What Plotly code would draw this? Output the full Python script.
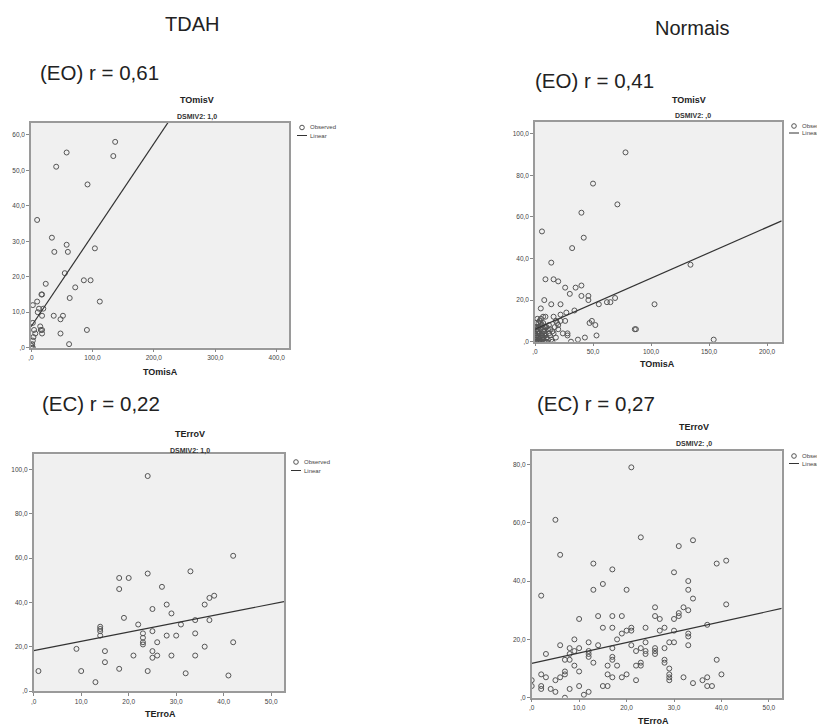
import plotly.graph_objects as go

# The page has an 8px body margin, so the figure is drawn 8px in from the window corner.
OFF = 8
W, H = 825 - OFF, 725 - OFF

# ---------------- data ----------------
# Panel 1: TDAH, TOmisA (x) vs TOmisV (y)
tdah_eo_x = [137, 134, 58, 41, 92, 10, 34, 58, 38, 60, 104, 55, 86, 97, 72, 24, 17, 18, 63, 112,
             10, 3, 20, 13, 11, 37, 18, 52, 48, 15, 18, 16, 5, 91, 18, 48, 3, 62, 4, 3, 2, 1, 7, 3, 2]
tdah_eo_y = [58, 54, 55, 51, 46, 36, 31, 29, 27, 27, 28, 21, 19, 19, 17, 18, 15, 15, 14, 13,
             13, 12, 11, 11, 10, 9, 9, 9, 8, 6, 5, 5, 5, 5, 4, 4, 7, 1, 3, 2, 1, 0.5, 4, 0, 0]
tdah_eo_fit = (5.9, 0.258)  # intercept, slope

# Panel 2: Normais, TOmisA (x) vs TOmisV (y)
norm_eo_x = [78, 50, 71, 40, 6, 42, 32, 14, 134, 9, 16, 20, 40, 26, 35, 30, 40, 46, 46, 55,
             62, 65, 69, 103, 8, 14, 22, 5, 34, 27, 16, 22, 7, 9, 26, 49, 47, 52, 86, 87,
             28, 28, 53, 43, 37, 31, 154,
             1, 2, 3, 1, 4, 2, 5, 3, 6, 1, 4, 2, 7, 8, 6, 10, 9, 11, 12, 13,
             14, 15, 17, 18, 19, 20, 22, 24, 3, 5, 0, 0, 1, 7, 9, 11, 16, 18, 20, 5,
             2, 4, 6, 8, 10, 12, 0, 3, 5, 7, 13, 15,
             1, 2, 3, 4, 5, 6, 7, 8, 9, 10, 1, 3, 5, 7, 9, 2, 4, 6, 8, 0]
norm_eo_y = [91, 76, 66, 62, 53, 50, 45, 38, 37, 30, 30, 29, 27, 26, 26, 23, 22, 22, 20, 18,
             19, 19, 21, 18, 20, 18, 18, 16, 15, 14, 12, 13, 12, 12, 10, 10, 9, 8, 6, 6,
             4, 3, 3, 2, 1, 0, 1,
             0, 1, 2, 3, 4, 5, 6, 7, 8, 9, 10, 11, 5, 3, 1, 2, 4, 6, 8, 3,
             1, 5, 7, 2, 9, 6, 10, 4, 0, 2, 1, 4, 6, 9, 7, 1, 4, 10, 8, 11,
             0, 1, 3, 0, 0, 4, 2, 5, 9, 2, 6, 0,
             7, 3, 9, 1, 0, 3, 1, 5, 0, 7, 2, 4, 8, 2, 3, 6, 0, 4, 6, 7]
norm_eo_fit = (6.0, 0.245)

# Panel 3: TDAH, TErroA (x) vs TErroV (y)
tdah_ec_x = [24, 42, 33, 24, 18, 20, 18, 27, 38, 37, 28, 36, 25, 29, 19, 34, 37, 22, 31,
             14, 14, 14, 14, 23, 25, 34, 28, 30, 23, 23, 23, 26, 42, 9, 15, 25, 36,
             21, 26, 29, 34, 25, 15, 18, 1, 10, 24, 32, 41, 13]
tdah_ec_y = [97, 61, 54, 53, 51, 51, 46, 47, 43, 42, 39, 39, 37, 35, 33, 32, 32, 30, 30,
             29, 28, 27, 25, 26, 27, 26, 25, 25, 24, 22, 21, 22, 22, 19, 18, 18, 20,
             16, 16, 16, 16, 15, 13, 10, 9, 9, 9, 8, 7, 4]
tdah_ec_fit = (18.2, 0.42)

# Panel 4: Normais, TErroA (x) vs TErroV (y)
norm_ec_x = [21, 5, 23, 34, 31, 6, 41, 39, 13, 17, 30, 15, 33, 33, 13, 20, 2, 34, 41, 26,
             32, 33, 31, 31, 30, 10, 27, 14, 17, 19, 26, 15, 17, 21, 24, 28, 21, 20, 27, 30,
             37, 19, 33, 33, 18, 9, 12, 24, 29, 30, 21, 6, 14, 33, 8, 10, 17, 28, 12, 23,
             26, 26, 9, 22, 24, 3, 8, 12, 12, 17, 26, 24, 7, 8, 17, 28, 28, 13, 23, 39,
             9, 16, 18, 22, 23, 29, 7, 10, 7, 2, 16, 20, 19, 29, 29, 3, 6, 17, 32, 37,
             40, 5, 22, 29, 36, 34, 0, 0, 2, 2, 10, 15, 16, 37, 38, 4, 8, 5, 12, 11, 7]
norm_ec_y = [79, 61, 55, 54, 52, 49, 47, 46, 46, 44, 43, 39, 40, 37, 37, 37, 35, 34, 32, 31,
             31, 30, 29, 28, 27, 27, 27, 28, 28, 28, 28, 24, 24, 24, 24, 24, 23, 23, 23, 23,
             25, 22, 22, 21, 20, 20, 19, 19, 19, 19, 18, 18, 18, 18, 17, 17, 17, 17, 16, 17,
             17, 16, 16, 16, 16, 15, 15, 15, 14, 14, 15, 15, 13, 13, 13, 13, 12, 12, 12, 13,
             11, 11, 11, 11, 11, 10, 9, 9, 8, 8, 8, 8, 7, 8, 7, 7, 7, 7, 7, 7,
             8, 6, 6, 6, 6, 5, 6, 4, 4, 3, 4, 4, 4, 4, 4, 3, 3, 2, 2, 1, 0]
norm_ec_fit = (11.8, 0.357)

# axis ranges and ticks
p1_xrange, p1_yrange, p1_xticks, p1_yticks = [0, 420], [0, 63.4], [0, 100, 200, 300, 400], [0, 10, 20, 30, 40, 50, 60]
p2_xrange, p2_yrange, p2_xticks, p2_yticks = [0, 212.6], [0, 105.6], [0, 50, 100, 150, 200], [0, 20, 40, 60, 80, 100]
p3_xrange, p3_yrange, p3_xticks, p3_yticks = [0, 52.7], [0, 106.8], [0, 10, 20, 30, 40, 50], [0, 20, 40, 60, 80, 100]
p4_xrange, p4_yrange, p4_xticks, p4_yticks = [0, 52.7], [0, 84.5], [0, 10, 20, 30, 40, 50], [0, 20, 40, 60, 80]

group_titles = ["TDAH", "Normais"]
r_labels = ["(EO) r = 0,61", "(EO) r = 0,41", "(EC) r = 0,22", "(EC) r = 0,27"]
y_titles = ["TOmisV", "TOmisV", "TErroV", "TErroV"]
sub_titles = ["DSMIV2: 1,0", "DSMIV2: ,0", "DSMIV2: 1,0", "DSMIV2: ,0"]
x_titles = ["TOmisA", "TOmisA", "TErroA", "TErroA"]
legend_names = ["Observed", "Linear"]


def spss(v):
    s = f"{v:.1f}".replace(".", ",")
    if s.startswith("0,"):
        s = s[1:]
    return s


def px(x):
    return (x - OFF) / W


def py(y):
    return 1 - (y - OFF) / H


FONT = "Liberation Sans, Arial, sans-serif"
MARK = "#555555"
LINE = "#333333"


def label(x, y, text, size, color="#222222", anchor="center"):
    return dict(x=px(x), y=py(y), xref="paper", yref="paper", xanchor=anchor, yanchor="middle",
                text=text, showarrow=False, font=dict(family=FONT, size=size, color=color))


panels = [
    dict(x=tdah_eo_x, y=tdah_eo_y, fit=tdah_eo_fit, xr=p1_xrange, yr=p1_yrange, xt=p1_xticks, yt=p1_yticks,
         box=(31, 122.7, 289, 347.7), title=(197, 100), sub=(197, 117), xtitle=(160, 372),
         leg=(302, 127.5, 135.5)),
    dict(x=norm_eo_x, y=norm_eo_y, fit=norm_eo_fit, xr=p2_xrange, yr=p2_yrange, xt=p2_xticks, yt=p2_yticks,
         box=(535, 122, 781.7, 341.7), title=(689, 100), sub=(693, 116), xtitle=(657, 364),
         leg=(794, 126, 133)),
    dict(x=tdah_ec_x, y=tdah_ec_y, fit=tdah_ec_fit, xr=p3_xrange, yr=p3_yrange, xt=p3_xticks, yt=p3_yticks,
         box=(33.7, 454.3, 284, 691), title=(190, 434), sub=(190, 451), xtitle=(160, 714),
         leg=(296, 462, 470.5)),
    dict(x=norm_ec_x, y=norm_ec_y, fit=norm_ec_fit, xr=p4_xrange, yr=p4_yrange, xt=p4_xticks, yt=p4_yticks,
         box=(531.7, 451.3, 781.7, 697.7), title=(694, 427), sub=(694, 444), xtitle=(653, 721),
         leg=(794, 456, 463.5)),
]

fig = go.Figure()
annotations = []
shapes = []

for i, p in enumerate(panels, start=1):
    xa = "x" if i == 1 else f"x{i}"
    ya = "y" if i == 1 else f"y{i}"
    fig.add_trace(go.Scatter(x=p["x"], y=p["y"], mode="markers", name=legend_names[0],
                             xaxis=xa, yaxis=ya, showlegend=False,
                             marker=dict(symbol="circle-open", size=5, color=MARK, line=dict(width=1, color=MARK))))
    b0, b1 = p["fit"]
    fx = [p["xr"][0], p["xr"][1]]
    fy = [b0 + b1 * v for v in fx]
    fig.add_trace(go.Scatter(x=fx, y=fy, mode="lines", name=legend_names[1], xaxis=xa, yaxis=ya,
                             showlegend=False, line=dict(color=LINE, width=1.2)))
    x0, y0, x1, y1 = p["box"]
    axis_common = dict(showgrid=False, zeroline=False, showline=True, mirror=True, linecolor="#9a9a9a",
                       linewidth=1.5, ticks="outside", ticklen=3, tickcolor="#888888", tickwidth=1,
                       tickfont=dict(family=FONT, size=6.5, color="#444444"), fixedrange=True,
                       automargin=False)
    fig.layout[f"xaxis{'' if i == 1 else i}"] = dict(domain=[px(x0), px(x1)], range=p["xr"], anchor=ya,
                                                      tickvals=p["xt"], ticktext=[spss(v) for v in p["xt"]],
                                                      **axis_common)
    fig.layout[f"yaxis{'' if i == 1 else i}"] = dict(domain=[py(y1), py(y0)], range=p["yr"], anchor=xa,
                                                      tickvals=p["yt"], ticktext=[spss(v) for v in p["yt"]],
                                                      **axis_common)
    # titles
    annotations.append(label(*p["title"], f"<b>{y_titles[i-1]}</b>", 9))
    annotations.append(label(*p["sub"], f"<b>{sub_titles[i-1]}</b>", 7, "#333333"))
    annotations.append(label(*p["xtitle"], f"<b>{x_titles[i-1]}</b>", 9))
    # legend (drawn manually)
    lx, ly1, ly2 = p["leg"]
    shapes.append(dict(type="circle", xref="paper", yref="paper", xsizemode="pixel", ysizemode="pixel",
                       xanchor=px(lx), yanchor=py(ly1), x0=-2.3, x1=2.3, y0=-2.3, y1=2.3,
                       line=dict(color=MARK, width=1)))
    shapes.append(dict(type="line", xref="paper", yref="paper", xsizemode="pixel", ysizemode="pixel",
                       xanchor=px(lx), yanchor=py(ly2), x0=-5, x1=5, y0=0, y1=0,
                       line=dict(color=LINE, width=1)))
    annotations.append(label(lx + 5.5, ly1, legend_names[0], 6, "#444444", "left"))
    annotations.append(label(lx + 5.5, ly2, legend_names[1], 6, "#444444", "left"))

# Group headings and r labels
annotations.append(label(192, 24, group_titles[0], 20))
annotations.append(label(692, 28, group_titles[1], 20))
r_pos = [(38, 72), (533, 80), (40, 403), (535, 403)]
for t, (x, y) in zip(r_labels, r_pos):
    annotations.append(label(x, y, t, 20.5, anchor="left"))

fig.update_layout(width=W, height=H, margin=dict(l=0, r=0, t=0, b=0), paper_bgcolor="white",
                  plot_bgcolor="#f0f0f0", showlegend=False, annotations=annotations, shapes=shapes)

fig.write_html("out.html")
